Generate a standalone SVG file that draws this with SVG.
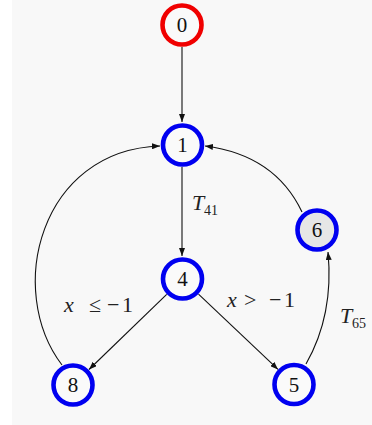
<svg xmlns="http://www.w3.org/2000/svg" width="372" height="425" viewBox="0 0 372 425">
<defs>
<marker id="arr" markerUnits="userSpaceOnUse" markerWidth="9" markerHeight="6" refX="8" refY="3" orient="auto">
<path d="M0,0 L8,3 L0,6 z" fill="#111"/>
</marker>
<style>
.node{fill:#fafafa;stroke:#0000f0;stroke-width:4.6}
.red{stroke:#f00000}
.gray{fill:#e6e6e6}
.lbl{font-family:"Liberation Serif","Times New Roman",serif;font-size:21px;fill:#111;text-anchor:middle}
.math{font-family:"Liberation Serif","Times New Roman",serif;font-size:22px;fill:#222}
.it{font-style:italic}
.sub{font-size:14px}
.edge{fill:none;stroke:#111;stroke-width:1.1;marker-end:url(#arr)}
</style>
</defs>
<rect x="0" y="0" width="372" height="425" fill="#ffffff"/>
<rect x="12" y="0" width="360" height="425" fill="#f8f8f8"/>
<g id="edges">
<path class="edge" d="M182,47 L182,122"/>
<path class="edge" d="M182,167 L182,256"/>
<path class="edge" d="M166.7,294.3 L89,369.5"/>
<path class="edge" d="M198.5,294.1 L278,369.4"/>
<path class="edge" d="M306,364 Q334,315 328,252"/>
<path class="edge" d="M302,212 Q275,155 205,146"/>
<path class="edge" d="M62,365 C5,290 40,150 160,146"/>
</g>
<g id="labels">
<text class="math" x="192" y="210"><tspan class="it">T</tspan><tspan class="sub" x="204" y="215">41</tspan></text>
<text class="math" x="64" y="312"><tspan class="it">x</tspan><tspan x="89">≤</tspan><tspan x="107">−</tspan><tspan x="122">1</tspan></text>
<text class="math" x="227" y="307"><tspan class="it">x</tspan><tspan x="244">&gt;</tspan><tspan x="269">−</tspan><tspan x="284">1</tspan></text>
<text class="math" x="340" y="323"><tspan class="it">T</tspan><tspan class="sub" x="352" y="328">65</tspan></text>
</g>
<g id="node0"><circle class="node red" cx="182" cy="25" r="19.5"/><text class="lbl" x="182" y="32">0</text></g>
<g id="node1"><circle class="node" cx="182.5" cy="145" r="19.5"/><text class="lbl" x="182.5" y="152">1</text></g>
<g id="node4"><circle class="node" cx="182.5" cy="279" r="19.5"/><text class="lbl" x="182.5" y="286">4</text></g>
<g id="node6"><circle class="node gray" cx="317" cy="230" r="19.5"/><text class="lbl" x="317" y="237">6</text></g>
<g id="node8"><circle class="node" cx="73" cy="385" r="19.5"/><text class="lbl" x="73" y="392">8</text></g>
<g id="node5"><circle class="node" cx="294" cy="384.5" r="19.5"/><text class="lbl" x="294" y="391.5">5</text></g>
</svg>
